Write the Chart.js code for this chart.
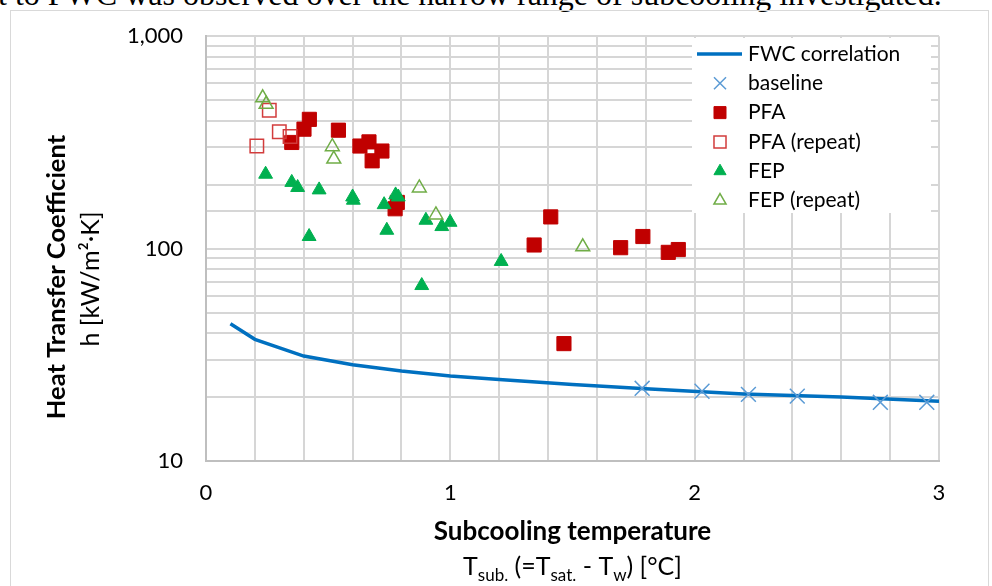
<!DOCTYPE html>
<html>
<head>
<meta charset="utf-8">
<script src="https://cdn.jsdelivr.net/npm/chart.js@4.4.1/dist/chart.umd.min.js"></script>
<style>
  html, body { margin: 0; padding: 0; background: #fff; overflow: hidden; }
  #page { position: relative; width: 992px; height: 586px; overflow: hidden; }
  #caption { position: absolute; left: -2px; top: -22px; font-family: 'Liberation Serif', 'Times New Roman', serif; font-size: 32px; line-height: 32px; white-space: nowrap; color: #000; }
  #frame { position: absolute; left: 10px; top: 10px; width: 977px; height: 600px; border: 1px solid #d9d9d9; }
  #chartBox { position: absolute; left: 0; top: 0; width: 992px; height: 586px; }
</style>
</head>
<body>
<div id="page">
  <div id="caption">t to FWC was observed over the narrow range of subcooling investigated.</div>
  <div id="frame"></div>
  <div id="chartBox"><canvas id="htcChart" width="992" height="586"></canvas></div>
</div>
<script>
const FONT = 'Lato, "Open Sans", sans-serif';

// FWC correlation curve
const fwcX = [0.1, 0.2, 0.4, 0.6, 0.8, 1.0, 1.2, 1.5, 1.8, 2.2, 2.6, 3.0];
const fwcY = [44.3, 37.4, 31.2, 28.4, 26.5, 25.1, 24.2, 22.9, 21.9, 20.7, 20.0, 19.1];

const baselineX = [1.785, 2.03, 2.22, 2.42, 2.76, 2.95];
const baselineY = [22.0, 21.3, 20.6, 20.2, 18.9, 18.9];

const pfaX = [0.351, 0.401, 0.423, 0.542, 0.630, 0.667, 0.720, 0.680, 0.774, 0.783, 1.343, 1.411, 1.465, 1.697, 1.788, 1.892, 1.933];
const pfaY = [316, 365, 406, 361, 304, 318, 288, 259, 154, 165, 104, 141, 35.7, 101, 114, 96, 99];

const pfaRepeatX = [0.208, 0.259, 0.300, 0.344];
const pfaRepeatY = [304, 448, 355, 337];

const fepX = [0.244, 0.351, 0.375, 0.463, 0.422, 0.600, 0.603, 0.729, 0.776, 0.787, 0.740, 0.900, 0.965, 0.999, 0.883, 1.208];
const fepY = [224, 205, 194, 189, 114, 175, 169, 161, 179, 175, 122, 136, 127, 133, 67, 87];

const fepRepeatX = [0.232, 0.246, 0.517, 0.523, 0.873, 0.941, 1.542];
const fepRepeatY = [513, 478, 302, 264, 193, 144, 102];

const seriesNames = ['FWC correlation', 'baseline', 'PFA', 'PFA (repeat)', 'FEP', 'FEP (repeat)'];
const yTickLabels = { 10: '10', 100: '100', 1000: '1,000' };
const xTitle = 'Subcooling temperature';
const xSubtitle = [['T', false], ['sub.', true], [' (=T', false], ['sat.', true], [' - T', false], ['w', true], [') [\u00B0C]', false]];
const yTitle = 'Heat Transfer Coefficient';
const ySubtitle = 'h [kW/m\u00B2\u00B7K]';

function toPoints(xs, ys) {
    return xs.map((x, i) => ({ x: x, y: ys[i] }));
}

const datasets = [{
    label: seriesNames[0],
    data: toPoints(fwcX, fwcY),
    showLine: true,
    borderColor: '#0070C0',
    borderWidth: 3.5,
    pointRadius: 0,
    order: 6
}, {
    label: seriesNames[1],
    data: toPoints(baselineX, baselineY),
    pointStyle: 'crossRot',
    pointRadius: 10.5,
    borderColor: '#5B9BD5',
    backgroundColor: '#5B9BD5',
    pointBorderWidth: 1.5,
    order: 5
}, {
    label: seriesNames[2],
    data: toPoints(pfaX, pfaY),
    pointStyle: 'rect',
    pointRadius: 10,
    borderColor: '#C00000',
    backgroundColor: '#C00000',
    pointBorderWidth: 1,
    order: 4
}, {
    label: seriesNames[3],
    data: toPoints(pfaRepeatX, pfaRepeatY),
    pointStyle: 'rect',
    pointRadius: 9.5,
    borderColor: '#D23C3C',
    backgroundColor: 'rgba(255,255,255,0)',
    pointBorderWidth: 1.5,
    order: 3
}, {
    label: seriesNames[4],
    data: toPoints(fepX, fepY),
    pointStyle: 'triangle',
    pointRadius: 8,
    borderColor: '#00B050',
    backgroundColor: '#00B050',
    pointBorderWidth: 1,
    order: 2
}, {
    label: seriesNames[5],
    data: toPoints(fepRepeatX, fepRepeatY),
    pointStyle: 'triangle',
    pointRadius: 8,
    borderColor: '#70AD47',
    backgroundColor: 'rgba(255,255,255,0)',
    pointBorderWidth: 1.5,
    order: 1
}];

// axis titles, drawn by hand because of the mixed bold / subscript text
const axisTitles = {
    id: 'axisTitles',
    afterDraw(chart) {
        const ctx = chart.ctx;
        const area = chart.chartArea;
        const cx = (area.left + area.right) / 2;
        ctx.save();
        ctx.fillStyle = '#000';
        ctx.textAlign = 'center';
        ctx.textBaseline = 'middle';
        ctx.font = 'bold 26px ' + FONT;
        ctx.fillText(xTitle, cx, 532);

        // second line with subscripts
        const big = '25px ' + FONT, small = '17px ' + FONT;
        let total = 0;
        xSubtitle.forEach(p => { ctx.font = p[1] ? small : big; total += ctx.measureText(p[0]).width; });
        let x = cx - total / 2;
        ctx.textAlign = 'left';
        ctx.textBaseline = 'alphabetic';
        xSubtitle.forEach(p => {
            ctx.font = p[1] ? small : big;
            ctx.fillText(p[0], x, p[1] ? 581 : 575);
            x += ctx.measureText(p[0]).width;
        });

        ctx.textAlign = 'center';
        ctx.textBaseline = 'middle';
        ctx.translate(57, 277);
        ctx.rotate(-Math.PI / 2);
        ctx.font = 'bold 25.5px ' + FONT;
        ctx.fillText(yTitle, 0, 0);
        ctx.font = '25px ' + FONT;
        ctx.fillText(ySubtitle, -2, 34);
        ctx.restore();
    }
};

// legend box inside the plot, like the original
const legendBox = {
    id: 'legendBox',
    afterDraw(chart) {
        const ctx = chart.ctx;
        ctx.save();
        ctx.fillStyle = '#fff';
        ctx.fillRect(692, 38, 239, 175);
        chart.data.datasets.forEach((ds, i) => {
            const y = 54 + i * 29.3;
            if (ds.showLine) {
                ctx.strokeStyle = ds.borderColor;
                ctx.lineWidth = ds.borderWidth;
                ctx.beginPath();
                ctx.moveTo(697, y);
                ctx.lineTo(742, y);
                ctx.stroke();
            } else {
                ctx.strokeStyle = ds.borderColor;
                ctx.fillStyle = ds.backgroundColor;
                ctx.lineWidth = ds.pointBorderWidth;
                Chart.helpers.drawPoint(ctx, {
                    pointStyle: ds.pointStyle,
                    radius: ds.pointStyle === 'triangle' ? 7 : 8.5,
                    rotation: 0,
                    borderWidth: ds.pointBorderWidth
                }, 720, y);
            }
            ctx.fillStyle = '#000';
            ctx.font = '21px ' + FONT;
            ctx.textAlign = 'left';
            ctx.textBaseline = 'middle';
            ctx.fillText(ds.label, 748, y);
        });
        ctx.restore();
    }
};

new Chart(document.getElementById('htcChart'), {
    type: 'scatter',
    data: { datasets: datasets },
    options: {
        responsive: false,
        animation: false,
        layout: { padding: { top: 35, right: 53, left: 0, bottom: 0 } },
        plugins: {
            legend: { display: false },
            tooltip: { enabled: false }
        },
        scales: {
            x: {
                type: 'linear',
                min: 0,
                max: 3,
                afterFit: function(scale) { scale.height = 125; },
                grid: { color: '#d6d6d6', lineWidth: 2, drawTicks: false },
                border: { color: '#bfbfbf', width: 2 },
                ticks: {
                    stepSize: 0.2,
                    autoSkip: false,
                    maxRotation: 0,
                    padding: 19,
                    color: '#000',
                    font: { family: FONT, size: 22 },
                    callback: function(value) {
                        return Math.abs(value - Math.round(value)) < 1e-6 ? String(Math.round(value)) : '';
                    }
                }
            },
            y: {
                type: 'logarithmic',
                min: 10,
                max: 1000,
                afterFit: function(scale) { scale.width = 206; },
                grid: { color: '#d6d6d6', lineWidth: 2, drawTicks: false },
                border: { color: '#bfbfbf', width: 2 },
                ticks: {
                    autoSkip: false,
                    padding: 23,
                    color: '#000',
                    font: { family: FONT, size: 22 },
                    callback: function(value) {
                        return yTickLabels[Math.round(value)] !== undefined && Math.abs(value - Math.round(value)) < 1e-6 ? yTickLabels[Math.round(value)] : '';
                    }
                }
            }
        }
    },
    plugins: [axisTitles, legendBox]
});
</script>
</body>
</html>
